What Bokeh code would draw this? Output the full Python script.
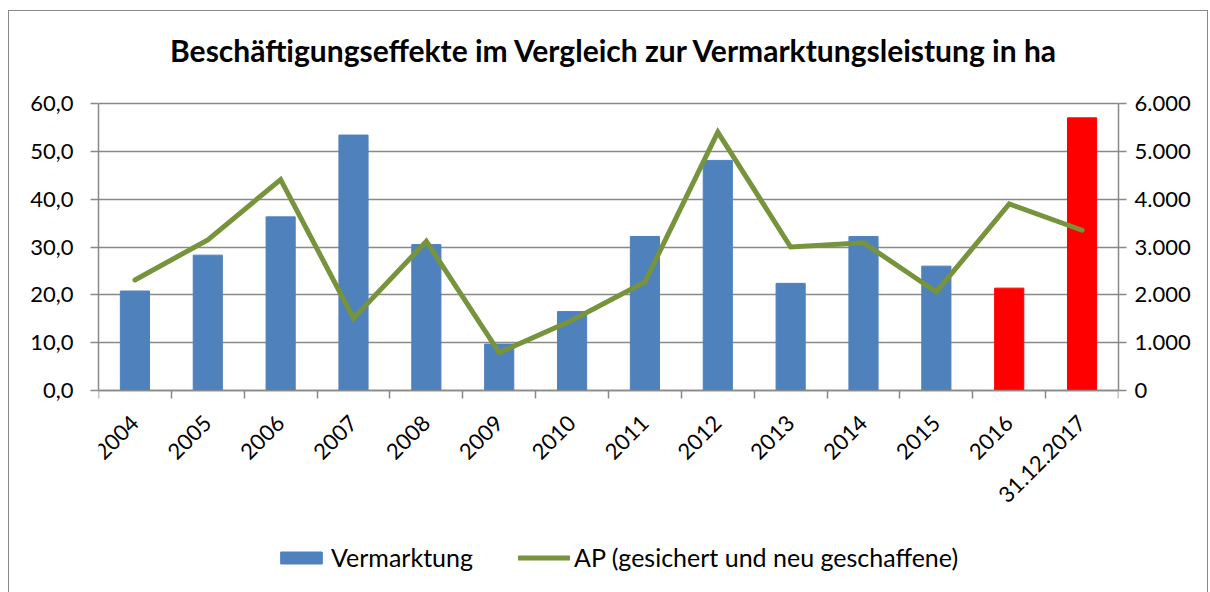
from bokeh.plotting import figure
from bokeh.models import (ColumnDataSource, Range1d, LinearAxis, FixedTicker,
                          Legend, LegendItem, Label)
from bokeh.embed import file_html
from bokeh.resources import INLINE

# ---- data ----
categories = ["2004", "2005", "2006", "2007", "2008", "2009", "2010", "2011",
              "2012", "2013", "2014", "2015", "2016", "31.12.2017"]
vermarktung = [20.8, 28.3, 36.3, 53.4, 30.5, 9.7, 16.5, 32.2, 48.1, 22.4,
               32.2, 26.0, 21.4, 57.0]
ap = [2310, 3150, 4410, 1510, 3120, 790, 1470, 2270, 5400, 3000, 3090,
      2060, 3900, 3350]
highlighted = ["2016", "31.12.2017"]
left_ticks = [0, 10, 20, 30, 40, 50, 60]
left_labels = ["0,0", "10,0", "20,0", "30,0", "40,0", "50,0", "60,0"]
right_ticks = [0, 1000, 2000, 3000, 4000, 5000, 6000]
right_labels = ["0", "1.000", "2.000", "3.000", "4.000", "5.000", "6.000"]
title_text = "Beschäftigungseffekte im Vergleich zur Vermarktungsleistung in ha"
bar_name = "Vermarktung"
line_name = "AP (gesichert und neu geschaffene)"

# ---- layout constants (pixels) ----
FONT = "Lato"
GRID = "#898989"
BLUE = "#4F81BD"
RED = "#FF0000"
GREEN = "#77933C"
FRAME_W = 1020
FRAME_H = 581          # whole visible height; title/legend live inside
PLOT_H = 287           # pixel height of the 0..60 value band
ABOVE = 92             # pixels above the top gridline (title area)
BELOW = FRAME_H - PLOT_H - ABOVE   # pixels below zero line (labels + legend)

ppu = PLOT_H / (left_ticks[-1] - left_ticks[0])
y_lo = left_ticks[0] - BELOW / ppu
y_hi = left_ticks[-1] + ABOVE / ppu
ratio = right_ticks[-1] / left_ticks[-1]

idx = list(range(len(categories)))
colors = [RED if c in highlighted else BLUE for c in categories]
src = ColumnDataSource(dict(x=idx, top=vermarktung, color=colors, ap=ap))

p = figure(frame_width=FRAME_W, frame_height=FRAME_H, output_backend="svg",
           toolbar_location=None,
           x_range=Range1d(-0.5, len(categories) - 0.5),
           y_range=Range1d(y_lo, y_hi),
           min_border_left=89, min_border_right=89, min_border_top=0,
           min_border_bottom=0)
p.extra_y_ranges = {"ap": Range1d(y_lo * ratio, y_hi * ratio)}
p.outline_line_color = None
p.background_fill_color = "white"
p.border_fill_color = "white"
p.styles = {"margin-left": "8px", "margin-top": "10px",
            "border-top": "1px solid #898989", "border-left": "1px solid #898989",
            "border-right": "1px solid #898989"}

bars = p.vbar(x="x", top="top", width=0.4, color="color", source=src)
line = p.line(x="x", y="ap", source=src, y_range_name="ap", line_color=GREEN,
              line_width=5, line_cap="round", line_join="miter")

# x axis, fixed at zero
xa = p.xaxis[0]
xa.fixed_location = left_ticks[0]
xa.ticker = FixedTicker(ticks=idx, minor_ticks=[i - 0.5 for i in idx] + [idx[-1] + 0.5])
xa.major_label_overrides = {i: c for i, c in zip(idx, categories)}
xa.major_label_orientation = 0.785398
xa.major_tick_out = 0
xa.major_tick_in = 0
xa.minor_tick_out = 8
xa.minor_tick_in = 0
xa.minor_tick_line_color = GRID
xa.minor_tick_line_width = 1.5
xa.axis_line_color = GRID
xa.axis_line_width = 1.5
xa.major_label_text_font = FONT
xa.major_label_text_font_size = "22px"
xa.major_label_text_color = "black"
xa.major_label_standoff = 21

# left axis
ya = p.yaxis[0]
ya.bounds = (left_ticks[0], left_ticks[-1])
ya.ticker = FixedTicker(ticks=left_ticks)
ya.major_label_overrides = {t: l for t, l in zip(left_ticks, left_labels)}
ya.minor_tick_line_color = None
ya.major_tick_out = 8
ya.major_tick_in = 0
ya.major_tick_line_color = GRID
ya.major_tick_line_width = 1.5
ya.axis_line_color = GRID
ya.axis_line_width = 1.5
ya.major_label_text_font = FONT
ya.major_label_text_font_size = "22px"
ya.major_label_text_color = "black"
ya.major_label_standoff = 17

# right axis
ra = LinearAxis(y_range_name="ap", ticker=FixedTicker(ticks=right_ticks),
                bounds=(right_ticks[0], right_ticks[-1]))
ra.major_label_overrides = {t: l for t, l in zip(right_ticks, right_labels)}
ra.minor_tick_line_color = None
ra.major_tick_out = 8
ra.major_tick_in = 0
ra.major_tick_line_color = GRID
ra.major_tick_line_width = 1.5
ra.axis_line_color = GRID
ra.axis_line_width = 1.5
ra.major_label_text_font = FONT
ra.major_label_text_font_size = "22px"
ra.major_label_text_color = "black"
ra.major_label_standoff = 8
p.add_layout(ra, "right")

# grid
p.xgrid.grid_line_color = None
p.ygrid.grid_line_color = GRID
p.ygrid.grid_line_width = 1.5
p.ygrid.ticker = FixedTicker(ticks=left_ticks)

# title (inside the frame, above the value band)
title = Label(x=FRAME_W / 2 + 6, y=FRAME_H - 38, x_units="screen", y_units="screen",
              text=title_text, text_font=FONT, text_font_size="30px",
              text_font_style="bold", text_color="black",
              text_align="center", text_baseline="middle")
p.add_layout(title)

legend = Legend(items=[LegendItem(label=bar_name, renderers=[bars]),
                       LegendItem(label=line_name, renderers=[line])],
                orientation="horizontal", location=(177, 20),
                glyph_width=52, glyph_height=15, label_standoff=4, spacing=45,
                label_text_font=FONT, label_text_font_size="25px",
                label_text_color="black", border_line_color=None,
                background_fill_alpha=0, padding=0, margin=0)
p.add_layout(legend, "center")

open("out.html", "w").write(file_html(p, INLINE))
